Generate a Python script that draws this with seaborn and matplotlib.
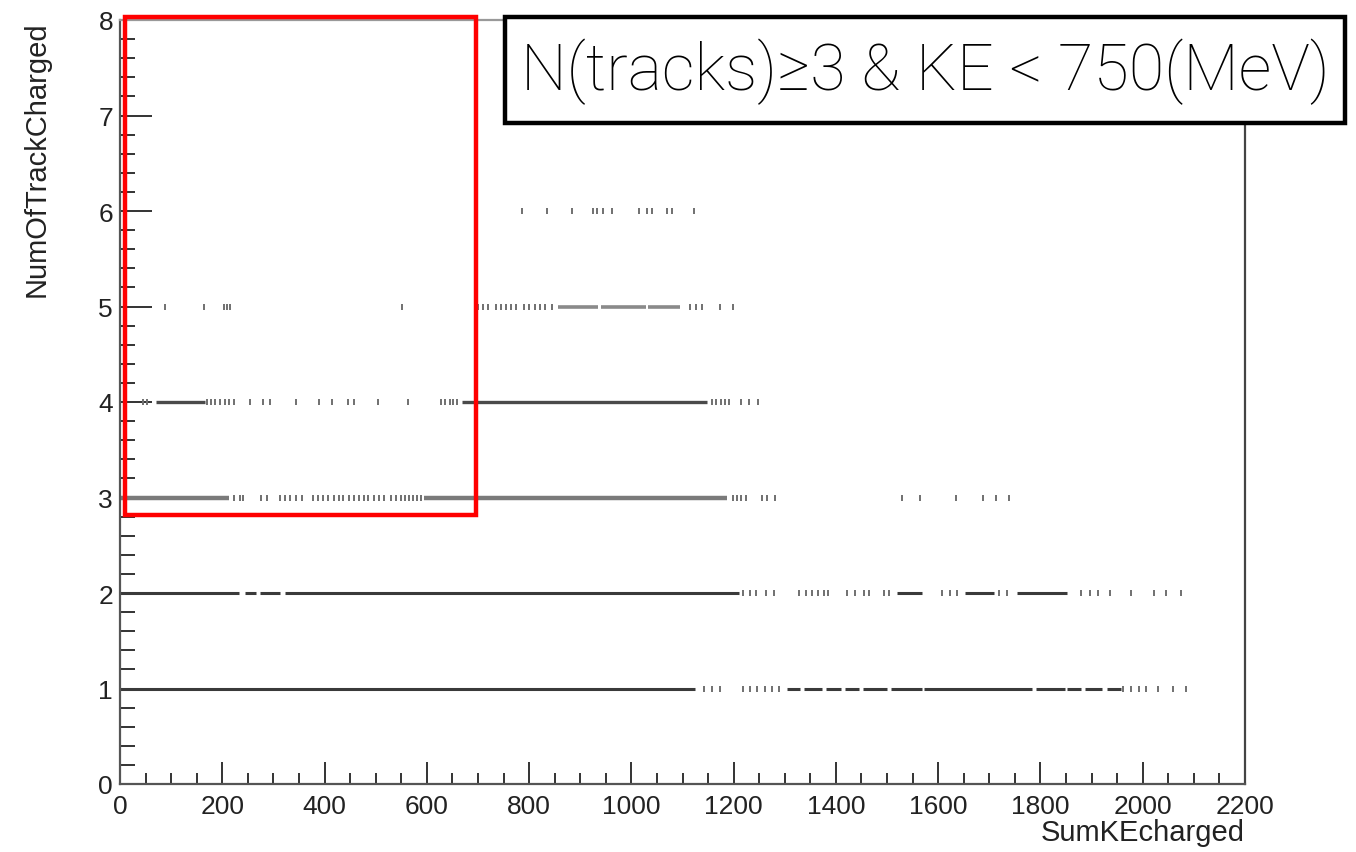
import numpy as np
import pandas as pd
import matplotlib
matplotlib.use("Agg")
import matplotlib.pyplot as plt
import seaborn as sns
from matplotlib.patches import Rectangle

# ---------------- data ----------------
track_levels = [1, 2, 3, 4, 5, 6, 7]

# continuous (densely filled) stretches of SumKEcharged per track multiplicity
dense_1 = [(0, 1124), (1304, 1330), (1338, 1372), (1380, 1410), (1418, 1445),
           (1452, 1500), (1508, 1568), (1572, 1784), (1791, 1848),
           (1852, 1880), (1888, 1920), (1930, 1957)]
dense_2 = [(0, 233), (244, 266), (274, 313), (323, 1211), (1519, 1568),
           (1652, 1709), (1754, 1852)]
dense_3 = [(0, 214), (594, 1187)]
dense_4 = [(70, 166), (669, 1148)]
dense_5 = [(856, 935), (940, 1029), (1033, 1095)]
dense_6 = []
dense_7 = []

# isolated events
sparse_1 = [1142, 1158, 1173, 1218, 1232, 1246, 1261, 1275, 1288,
            1961, 1977, 1993, 2006, 2030, 2059, 2085]
sparse_2 = [1218, 1232, 1244, 1263, 1279, 1328, 1341, 1353, 1365, 1377, 1385,
            1422, 1437, 1455, 1465, 1494, 1504, 1607, 1623, 1637, 1719, 1735,
            1879, 1897, 1913, 1936, 1977, 2022, 2046, 2075]
sparse_3 = [223, 235, 241, 276, 287, 313, 323, 332, 344, 356, 377, 387, 397,
            407, 418, 428, 436, 448, 458, 467, 477, 485, 497, 506, 516, 530,
            540, 550, 557, 565, 573, 581, 589, 1199, 1207, 1214, 1224, 1255,
            1265, 1281, 1529, 1564, 1635, 1688, 1713, 1738]
sparse_4 = [45, 52, 170, 178, 186, 195, 205, 214, 223, 254, 280, 293, 344,
            389, 415, 446, 458, 505, 563, 628, 636, 645, 652, 659, 1158, 1166,
            1175, 1183, 1191, 1214, 1230, 1248]
sparse_5 = [88, 164, 203, 209, 215, 551, 700, 710, 720, 735, 745, 755, 765,
            775, 790, 800, 812, 822, 832, 845, 1115, 1127, 1138, 1173, 1199]
sparse_6 = [786, 835, 884, 925, 933, 945, 962, 1015, 1030, 1040, 1070, 1080,
            1122]
sparse_7 = [847]

dense_all = [dense_1, dense_2, dense_3, dense_4, dense_5, dense_6, dense_7]
sparse_all = [sparse_1, sparse_2, sparse_3, sparse_4, sparse_5, sparse_6,
              sparse_7]

x_ticks = [0, 200, 400, 600, 800, 1000, 1200, 1400, 1600, 1800, 2000, 2200]
y_ticks = [0, 1, 2, 3, 4, 5, 6, 7, 8]

cut_box = (10, 2.82, 696, 8.03)   # x0, y0, x1, y1 of the selection
cut_label = "N(tracks)≥3 & KE < 750(MeV)"

# ---------------- styling ----------------
sns.set_style("ticks")
plt.rcParams["font.family"] = ["Liberation Sans", "DejaVu Sans"]

fig = plt.figure(figsize=(13.56, 8.53), dpi=100)
ax = fig.add_axes([120 / 1356, 1 - 785 / 853, 1125 / 1356, 764 / 853])

level_colors = ["#3a3a3a", "#3a3a3a", "#7a7a7a", "#4a4a4a", "#8a8a8a",
                "#666666", "#666666"]
level_lw = [2.2, 2.2, 3.2, 2.4, 2.6, 2, 2]

for lvl, segs, col, lw in zip(track_levels, dense_all, level_colors, level_lw):
    for x0, x1 in segs:
        ax.hlines(lvl, x0, x1, colors=col, linewidth=lw, zorder=2)

rows = []
for lvl, xs in zip(track_levels, sparse_all):
    for x in xs:
        rows.append({"SumKEcharged": x, "NumOfTrackCharged": lvl})
df = pd.DataFrame(rows)
sns.scatterplot(data=df, x="SumKEcharged", y="NumOfTrackCharged", ax=ax,
                marker="|", s=14, color="#707070", linewidth=1.4, zorder=3,
                legend=False)

ax.set_xlim(0, 2200)
ax.set_ylim(0, 8)
ax.set_xticks(x_ticks)
ax.set_xticklabels([str(t) for t in x_ticks])
ax.set_yticks(y_ticks)
ax.set_yticklabels([str(t) for t in y_ticks])
ax.xaxis.set_minor_locator(matplotlib.ticker.MultipleLocator(50))
ax.yaxis.set_minor_locator(matplotlib.ticker.MultipleLocator(0.2))

ax.tick_params(axis="both", which="both", direction="in", colors="#333333",
               width=1.4, labelsize=19, labelcolor="#222222")
ax.tick_params(axis="x", which="major", length=16, pad=7)
ax.tick_params(axis="x", which="minor", length=8)
ax.tick_params(axis="y", which="major", length=23, pad=5)
ax.tick_params(axis="y", which="minor", length=11)

for side in ["left", "bottom", "right", "top"]:
    ax.spines[side].set_visible(True)
    ax.spines[side].set_linewidth(1.6)
ax.spines["left"].set_color("#555555")
ax.spines["bottom"].set_color("#555555")
ax.spines["right"].set_color("#444444")
ax.spines["top"].set_color("#999999")

ax.set_xlabel("SumKEcharged", fontsize=21, color="#222222", loc="right")
ax.xaxis.set_label_coords(1.0, -0.045)
ax.xaxis.label.set_va("top")
ax.set_ylabel("NumOfTrackCharged", fontsize=21, color="#222222", loc="top")
ax.yaxis.set_label_coords(-0.062, 1.0)

# red selection rectangle
x0, y0, x1, y1 = cut_box
ax.add_patch(Rectangle((x0, y0), x1 - x0, y1 - y0, fill=False,
                       edgecolor="#ff0000", linewidth=3.2, clip_on=False,
                       zorder=5))

# label box
fig.add_artist(Rectangle((505 / 1356, 1 - 124 / 853), 840 / 1356, 106 / 853,
                         transform=fig.transFigure, facecolor="white",
                         edgecolor="black", linewidth=3.2, zorder=6))
fig.text(925 / 1356, 1 - 72 / 853, cut_label, ha="center", va="center",
         fontsize=46.5, color="#000000", zorder=7,
         family=["Roboto", "DejaVu Sans"], fontweight="light")

fig.savefig("out.png", dpi=100)
